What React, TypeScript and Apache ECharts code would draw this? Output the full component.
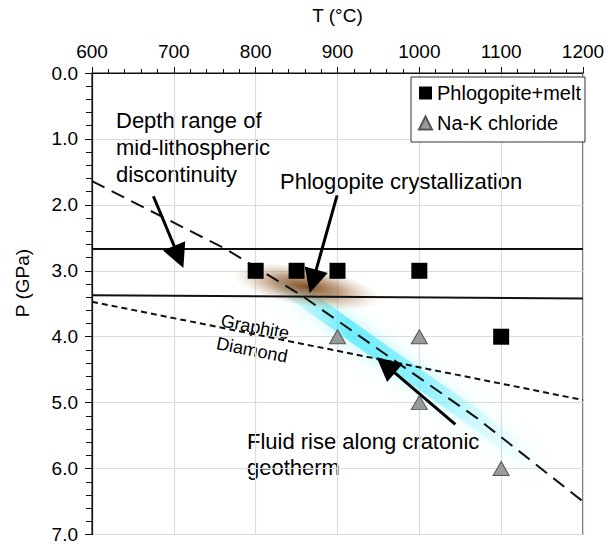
import React, { useEffect, useRef } from "react";
import * as echarts from "echarts";

// ---- data (T in °C, P in GPa) ----
const phlogopiteMelt: number[][] = [
  [800, 3.0],
  [850, 3.0],
  [900, 3.0],
  [1000, 3.0],
  [1100, 4.0],
];
const naKChloride: number[][] = [
  [900, 4.0],
  [1000, 4.0],
  [1000, 5.0],
  [1100, 6.0],
];
const cratonicGeotherm: number[][] = [
  [600, 1.64],
  [765, 2.68],
  [858, 3.39],
  [943, 4.13],
  [1070, 5.23],
  [1200, 6.5],
];
const graphiteDiamond: number[][] = [
  [600, 3.47],
  [1200, 4.96],
];
const mldUpper: number[][] = [
  [600, 2.67],
  [1200, 2.67],
];
const mldLower: number[][] = [
  [600, 3.37],
  [1200, 3.42],
];
const fluidGlow: number[][] = [
  [835, 3.23],
  [858, 3.4],
  [943, 4.15],
  [1070, 5.25],
  [1150, 6.04],
];
const phlogopiteGlow: number[][] = [[862, 3.24]];
const arrows: number[][][] = [
  [
    [675, 1.87],
    [706, 2.79],
  ],
  [
    [899.5, 1.855],
    [870, 3.16],
  ],
  [
    [1044, 5.33],
    [959, 4.43],
  ],
];

const FONT = "'Liberation Sans', Arial, sans-serif";

export default function App() {
  const ref = useRef<HTMLDivElement>(null);

  useEffect(() => {
    document.body.style.margin = "0";
    if (!ref.current) return;
    const chart = echarts.init(ref.current, undefined, { renderer: "svg" });

    const option: any = {
      animation: false,
      backgroundColor: "#fff",
      textStyle: { fontFamily: FONT },
      grid: {
        left: 92,
        right: 27,
        top: 73,
        bottom: 7,
        show: true,
        borderColor: "#111",
        borderWidth: 1.2,
        backgroundColor: "transparent",
      },
      legend: {
        data: ["Phlogopite+melt", "Na-K chloride"],
        orient: "vertical",
        left: 411,
        top: 77,
        itemWidth: 13,
        itemHeight: 13,
        itemGap: 10,
        padding: [6, 4, 9, 7],
        borderColor: "#333",
        borderWidth: 1,
        backgroundColor: "#fff",
        borderRadius: 0,
        textStyle: { fontSize: 20, color: "#000", fontFamily: FONT },
      },
      xAxis: {
        type: "value",
        position: "top",
        min: 600,
        max: 1200,
        interval: 100,
        name: "T (°C)",
        nameLocation: "middle",
        nameGap: 48,
        nameTextStyle: { fontSize: 19, color: "#000", fontFamily: FONT },
        axisLine: { show: true, lineStyle: { color: "#111", width: 1.2 } },
        axisTick: { show: true, inside: false, length: 6, lineStyle: { color: "#111" } },
        minorTick: { show: true, splitNumber: 5, length: 4, lineStyle: { color: "#111" } },
        splitLine: { show: true, lineStyle: { color: "#dcdcdc", width: 1.2 } },
        axisLabel: {
          fontSize: 19,
          color: "#000",
          margin: 12,
          fontFamily: FONT,
          formatter: (v: number) => String(v),
        },
      },
      yAxis: {
        type: "value",
        inverse: true,
        min: 0,
        max: 7,
        interval: 1,
        axisLine: { show: true, lineStyle: { color: "#111", width: 1.2 } },
        axisTick: { show: true, inside: false, length: 7, lineStyle: { color: "#111" } },
        minorTick: { show: true, splitNumber: 5, length: 6, lineStyle: { color: "#111" } },
        splitLine: { show: true, lineStyle: { color: "#dcdcdc", width: 1.2 } },
        axisLabel: {
          fontSize: 19,
          color: "#000",
          margin: 14,
          fontFamily: FONT,
          formatter: (v: number) => v.toFixed(1),
        },
      },
      graphic: [
        {
          type: "text",
          x: 22,
          y: 283,
          rotation: Math.PI / 2,
          style: {
            text: "P (GPa)",
            fontSize: 19,
            fontFamily: FONT,
            fill: "#000",
            align: "center",
            verticalAlign: "middle",
          },
        },
        {
          type: "text",
          x: 116,
          y: 147,
          style: {
            text: "Depth range of\nmid-lithospheric\ndiscontinuity",
            fontSize: 22,
            lineHeight: 27,
            fontFamily: FONT,
            fill: "#000",
            align: "left",
            verticalAlign: "middle",
          },
        },
        {
          type: "text",
          x: 280,
          y: 181,
          style: {
            text: "Phlogopite crystallization",
            fontSize: 22,
            fontFamily: FONT,
            fill: "#000",
            align: "left",
            verticalAlign: "middle",
          },
        },
        {
          type: "text",
          x: 247,
          y: 454,
          style: {
            text: "Fluid rise along cratonic\ngeotherm",
            fontSize: 22,
            lineHeight: 26,
            fontFamily: FONT,
            fill: "#000",
            align: "left",
            verticalAlign: "middle",
          },
        },
        {
          type: "text",
          x: 255,
          y: 327,
          rotation: -0.19,
          style: {
            text: "Graphite",
            fontSize: 18,
            fontFamily: FONT,
            fill: "#000",
            align: "center",
            verticalAlign: "middle",
          },
        },
        {
          type: "text",
          x: 252,
          y: 350,
          rotation: -0.19,
          style: {
            text: "Diamond",
            fontSize: 18,
            fontFamily: FONT,
            fill: "#000",
            align: "center",
            verticalAlign: "middle",
          },
        },
      ],
      series: [
        {
          name: "phlogopite glow",
          type: "scatter",
          data: phlogopiteGlow,
          symbol: "circle",
          symbolSize: [150, 40],
          symbolRotate: -10,
          silent: true,
          z: 1,
          itemStyle: {
            opacity: 1,
            color: new echarts.graphic.RadialGradient(0.5, 0.5, 0.5, [
              { offset: 0, color: "rgba(125,70,25,0.95)" },
              { offset: 0.45, color: "rgba(150,95,50,0.6)" },
              { offset: 1, color: "rgba(200,160,120,0)" },
            ]),
          },
        },
        {
          name: "fluid glow",
          type: "line",
          data: fluidGlow,
          showSymbol: false,
          smooth: false,
          silent: true,
          z: 1,
          lineStyle: {
            width: 18,
            cap: "round",
            color: new echarts.graphic.LinearGradient(0, 0, 1, 0, [
              { offset: 0, color: "rgba(110,235,248,0.15)" },
              { offset: 0.25, color: "rgba(70,232,250,0.7)" },
              { offset: 0.55, color: "rgba(90,235,250,0.55)" },
              { offset: 0.8, color: "rgba(140,242,250,0.2)" },
              { offset: 1, color: "rgba(170,246,250,0)" },
            ]),
            shadowBlur: 18,
            shadowColor: "rgba(70,232,250,0.6)",
          },
        },
        {
          name: "MLD upper",
          type: "line",
          data: mldUpper,
          showSymbol: false,
          silent: true,
          z: 3,
          lineStyle: { color: "#111", width: 2 },
        },
        {
          name: "MLD lower",
          type: "line",
          data: mldLower,
          showSymbol: false,
          silent: true,
          z: 3,
          lineStyle: { color: "#111", width: 2 },
        },
        {
          name: "Cratonic geotherm",
          type: "line",
          data: cratonicGeotherm,
          showSymbol: false,
          silent: true,
          z: 3,
          lineStyle: { color: "#111", width: 2, type: [14, 8] },
        },
        {
          name: "Graphite-Diamond",
          type: "line",
          data: graphiteDiamond,
          showSymbol: false,
          silent: true,
          z: 3,
          lineStyle: { color: "#111", width: 2, type: [6, 4] },
        },
        {
          name: "arrows",
          type: "lines",
          coordinateSystem: "cartesian2d",
          data: arrows.map((c) => ({ coords: c })),
          symbol: ["none", "triangle"],
          symbolSize: [15, 24],
          silent: true,
          z: 5,
          lineStyle: { color: "#000", width: 3, opacity: 1 },
        },
        {
          name: "Phlogopite+melt",
          type: "scatter",
          data: phlogopiteMelt,
          symbol: "rect",
          symbolSize: 16,
          z: 6,
          itemStyle: { color: "#000", opacity: 1 },
        },
        {
          name: "Na-K chloride",
          type: "scatter",
          data: naKChloride,
          symbol: "triangle",
          symbolSize: [16, 14],
          z: 6,
          itemStyle: { color: "#9a9a9a", borderColor: "#555", borderWidth: 1, opacity: 1 },
        },
      ],
    };

    chart.setOption(option);
    return () => chart.dispose();
  }, []);

  return <div ref={ref} style={{ width: 610, height: 544 }} />;
}
